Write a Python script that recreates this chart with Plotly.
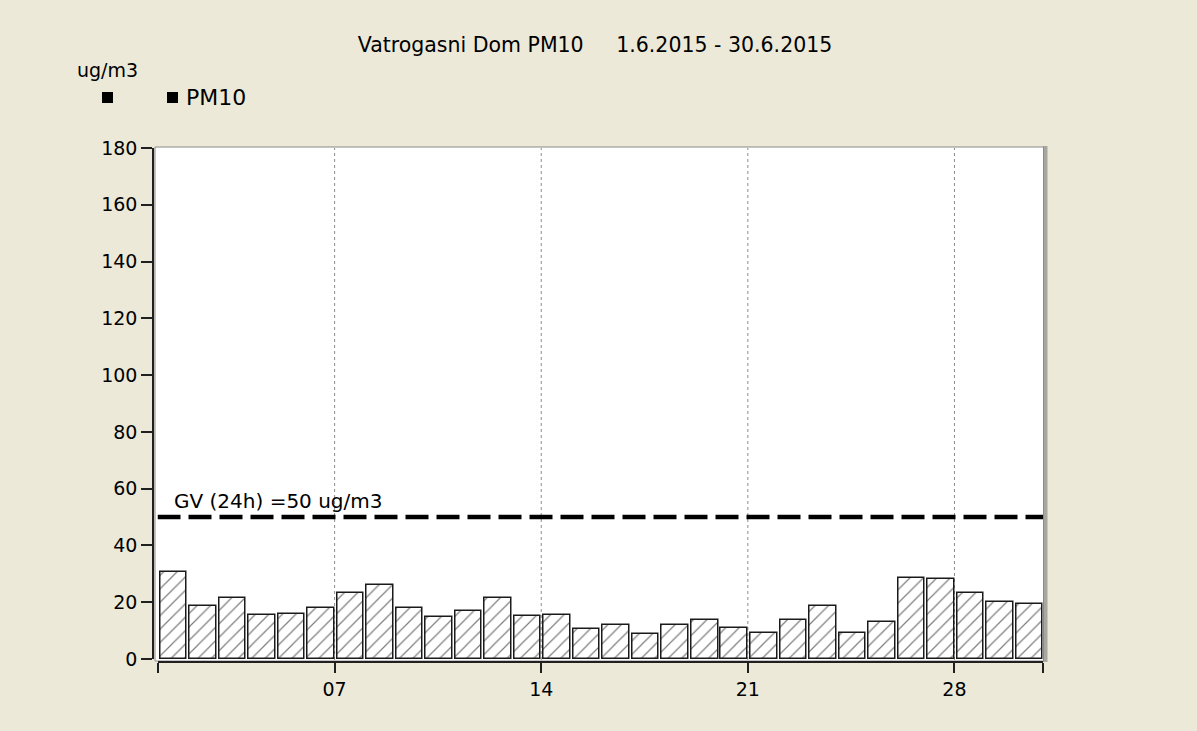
import plotly.graph_objects as go

# ---- data ----
days = list(range(1, 31))
pm10 = [30.6, 18.8, 21.6, 15.5, 16.0, 17.9, 23.2, 26.2, 17.9, 14.7,
        16.9, 21.6, 15.1, 15.6, 10.4, 11.9, 8.7, 11.9, 13.7, 11.0,
        9.2, 13.7, 18.8, 9.2, 12.9, 28.4, 28.1, 23.4, 20.2, 19.3]
tick_days = [7, 14, 21, 28]
tick_labels = ["07", "14", "21", "28"]
y_ticks = [0, 20, 40, 60, 80, 100, 120, 140, 160, 180]
limit_value = 50
limit_label = "GV (24h) =50 ug/m3"
series_name = "PM10"
title_text = "Vatrogasni Dom PM10\u00a0\u00a0\u00a0\u00a0 1.6.2015 - 30.6.2015"
unit_label = "ug/m3"

# ---- geometry (pixels) ----
W, H = 1197, 731
L, R, T, B = 153, 1047, 147, 662          # paper box
PW, PH = R - L, B - T


def px(x):
    return (x - L) / PW


def py(y):
    return (B - y) / PH


BG = "#ECE9D8"
FONT = "DejaVu Sans"

fig = go.Figure()

# bars: day d spans [d-1, d] on the axis
fig.add_trace(go.Bar(
    x=[d - 0.46 for d in days],
    y=pm10,
    width=0.9,
    name=series_name,
    marker=dict(
        color="white",
        line=dict(color="#1a1a1a", width=1.5),
        pattern=dict(shape="/", fgcolor="black", bgcolor="white",
                     size=9.5, solidity=0.13),
    ),
    showlegend=False,
    hoverinfo="x+y",
))

# limit line
fig.add_trace(go.Scatter(
    x=[0, len(days)],
    y=[limit_value, limit_value],
    mode="lines",
    line=dict(color="black", width=4.5, dash="23px,8px"),
    showlegend=False,
    hoverinfo="skip",
))

shapes = []
# plot frame shadow + white frame
shapes.append(dict(type="rect", xref="paper", yref="paper",
                   x0=px(1043), x1=px(1047.5), y0=py(662), y1=py(146),
                   fillcolor="#a8a8a0", line=dict(width=0), layer="below"))
shapes.append(dict(type="rect", xref="paper", yref="paper",
                   x0=px(155), x1=px(1043.5), y0=py(661), y1=py(147),
                   fillcolor="white", line=dict(color="#8a8a8a", width=1),
                   layer="below"))
# vertical dotted grid lines at tick days
for d in tick_days:
    shapes.append(dict(type="line", xref="x", yref="paper",
                       x0=d - 1, x1=d - 1, y0=py(660), y1=py(148),
                       line=dict(color="#8c8c8c", width=1, dash="3px,3px"),
                       layer="below"))
# legend squares
for cx in (107.5, 172.5):
    shapes.append(dict(type="rect", xref="paper", yref="paper",
                       x0=px(cx - 5.5), x1=px(cx + 5.5),
                       y0=py(103), y1=py(92),
                       fillcolor="black", line=dict(width=0)))

annotations = [
    dict(text=unit_label, xref="paper", yref="paper",
         x=px(107), y=py(70), xanchor="center", yanchor="middle",
         showarrow=False, font=dict(family=FONT, size=19, color="black")),
    dict(text=series_name, xref="paper", yref="paper",
         x=px(184), y=py(98), xanchor="left", yanchor="middle",
         showarrow=False, font=dict(family=FONT, size=22, color="black")),
    dict(text=limit_label, xref="x", yref="y",
         x=0.5, y=limit_value, xanchor="left", yanchor="bottom", yshift=2,
         showarrow=False, font=dict(family=FONT, size=20, color="black")),
]

fig.update_layout(
    width=W, height=H,
    margin=dict(l=L, r=W - R, t=T, b=H - B, pad=0),
    paper_bgcolor=BG,
    plot_bgcolor="rgba(0,0,0,0)",
    font=dict(family=FONT, size=19, color="black"),
    title=dict(text=title_text, x=595 / W, y=1 - 45 / H,
               xanchor="center", yanchor="middle",
               font=dict(family=FONT, size=20.5, color="black")),
    showlegend=False,
    bargap=0,
    shapes=shapes,
    annotations=annotations,
    xaxis=dict(
        domain=[px(157.5), px(1043)],
        range=[0, len(days)],
        anchor="free", position=0,
        showline=True, linecolor="#202020", linewidth=1.5,
        ticks="outside", ticklen=10, tickwidth=1.5, tickcolor="#202020",
        tickvals=[0] + [d - 1 for d in tick_days] + [len(days)],
        ticktext=[""] + tick_labels + [""],
        showgrid=False, zeroline=False,
        tickfont=dict(family=FONT, size=19, color="black"),
        fixedrange=True,
    ),
    yaxis=dict(
        domain=[py(659), py(148)],
        range=[0, 180],
        anchor="free", position=0,
        showline=True, linecolor="#202020", linewidth=1.5,
        ticks="outside", ticklen=11, tickwidth=1.5, tickcolor="#202020",
        tickvals=y_ticks,
        showgrid=False, zeroline=False,
        tickfont=dict(family=FONT, size=19, color="black"),
        fixedrange=True,
    ),
)

fig.write_html(
    "out.html",
    config={"displayModeBar": False},
    post_script="document.body.style.margin='0';"
                "document.body.style.overflow='hidden';"
                "document.body.style.background='" + BG + "';",
)
